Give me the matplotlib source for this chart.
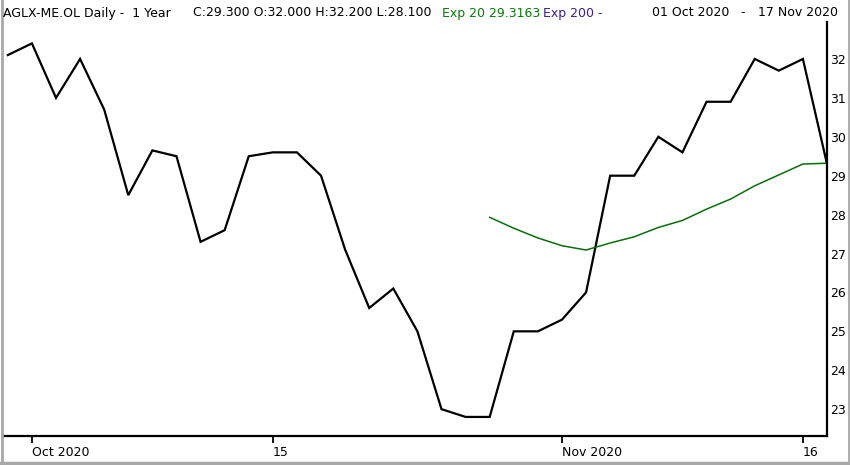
import matplotlib
matplotlib.use("Agg")
import matplotlib.pyplot as plt
from matplotlib.lines import Line2D

# trading days, 30 Sep 2020 .. 17 Nov 2020
dates = ["2020-09-30",
         "2020-10-01", "2020-10-02", "2020-10-05", "2020-10-06", "2020-10-07",
         "2020-10-08", "2020-10-09", "2020-10-12", "2020-10-13", "2020-10-14",
         "2020-10-15", "2020-10-16", "2020-10-19", "2020-10-20", "2020-10-21",
         "2020-10-22", "2020-10-23", "2020-10-26", "2020-10-27", "2020-10-28",
         "2020-10-29", "2020-10-30",
         "2020-11-02", "2020-11-03", "2020-11-04", "2020-11-05", "2020-11-06",
         "2020-11-09", "2020-11-10", "2020-11-11", "2020-11-12", "2020-11-13",
         "2020-11-16", "2020-11-17"]

close = [32.1, 32.4, 31.0, 32.0, 30.7, 28.5, 29.65, 29.5, 27.3, 27.6, 29.5,
         29.6, 29.6, 29.0, 27.1, 25.6, 26.1, 25.0, 23.0, 22.8, 22.8,
         25.0, 25.0, 25.3, 26.0, 29.0, 29.0, 30.0, 29.6, 30.9, 30.9,
         32.0, 31.7, 32.0, 29.3]

# Exp 20, shown from 28 Oct on
ema_start = "2020-10-28"
ema20 = [27.93, 27.65, 27.40, 27.20, 27.09, 27.27, 27.43, 27.67, 27.85,
         28.14, 28.40, 28.74, 29.02, 29.30, 29.32]

tick_dates = ["2020-10-01", "2020-10-15", "2020-11-02", "2020-11-16"]
tick_labels = ["Oct 2020", "15", "Nov 2020", "16"]
yticks = [23, 24, 25, 26, 27, 28, 29, 30, 31, 32]

W, H = 850, 465
fig = plt.figure(figsize=(W / 100, H / 100), dpi=100)
ax = fig.add_axes([3 / W, (H - 436) / H, (827 - 3) / W, (436 - 22) / H])

x = list(range(len(dates)))
i0 = dates.index(ema_start)
ax.plot(x, close, color="black", lw=1.6, solid_joinstyle="miter")
ax.plot(x[i0:i0 + len(ema20)], ema20, color="#0a6e0a", lw=1.1)

ax.set_xlim(-0.2, len(dates) - 1)
ax.set_ylim(22.31, 32.95)

ax.spines["top"].set_visible(False)
ax.spines["left"].set_visible(False)
ax.spines["right"].set_linewidth(1.6)
ax.spines["bottom"].set_linewidth(1.6)

ax.yaxis.tick_right()
ax.set_yticks(yticks)
ax.set_yticklabels([str(v) for v in yticks])
ax.tick_params(axis="y", length=0, pad=2.5, labelsize=9)

ax.set_xticks([dates.index(d) for d in tick_dates])
ax.set_xticklabels(tick_labels, ha="left")
ax.tick_params(axis="x", length=5, width=1.3, pad=2, labelsize=9,
               direction="out")
for lab in ax.get_xticklabels():
    lab.set_horizontalalignment("left")

# header line
ty = 1 - 13 / H
fs = 9
fig.text(3 / W, ty, "AGLX-ME.OL Daily -  1 Year", fontsize=fs, va="center")
fig.text(193 / W, ty, "C:29.300 O:32.000 H:32.200 L:28.100", fontsize=fs, va="center")
fig.text(442 / W, ty, "Exp 20 29.3163", fontsize=fs, va="center", color="#0a7a0a")
fig.text(543 / W, ty, "Exp 200 -", fontsize=fs, va="center", color="#3b1d8f")
fig.text(652 / W, ty, "01 Oct 2020", fontsize=fs, va="center")
fig.text(740 / W, ty, "-", fontsize=fs, va="center")
fig.text(838 / W, ty, "17 Nov 2020", fontsize=fs, va="center", ha="right")

# outer frame: left, right, bottom
frame = "#a8a8a8"
fig.lines.append(Line2D([1.5 / W, 1.5 / W], [0, 1], transform=fig.transFigure,
                        color=frame, lw=2))
fig.lines.append(Line2D([1 - 1.5 / W, 1 - 1.5 / W], [0, 1], transform=fig.transFigure,
                        color=frame, lw=2))
fig.lines.append(Line2D([0, 1], [2 / H, 2 / H], transform=fig.transFigure,
                        color=frame, lw=2.5))

fig.savefig("out.png", dpi=100)
